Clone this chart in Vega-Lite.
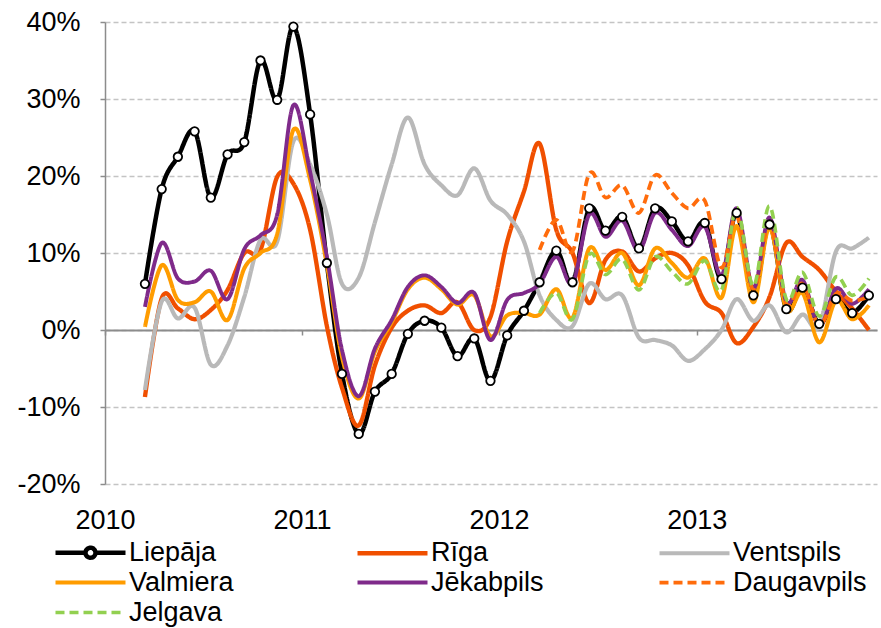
{
  "$schema": "https://vega.github.io/schema/vega-lite/v6.json",
  "width": 772,
  "height": 462,
  "autosize": {"type": "none"},
  "padding": {"left": 105, "top": 22, "right": 4, "bottom": 144},
  "config": {"font": "Liberation Sans", "view": {"stroke": null}},
  "data": {"values": [
    {"m": "2010-03-16", "Liepāja": 6.0, "Rīga": -8.7, "Ventspils": -7.8, "Valmiera": 0.4, "Jēkabpils": 3.0},
    {"m": "2010-04-16", "Liepāja": 18.3, "Rīga": 4.1, "Ventspils": 3.7, "Valmiera": 8.4, "Jēkabpils": 11.3},
    {"m": "2010-05-16", "Liepāja": 22.5, "Rīga": 2.8, "Ventspils": 1.5, "Valmiera": 3.9, "Jēkabpils": 6.7},
    {"m": "2010-06-16", "Liepāja": 25.8, "Rīga": 1.4, "Ventspils": 2.9, "Valmiera": 3.6, "Jēkabpils": 6.3},
    {"m": "2010-07-16", "Liepāja": 17.2, "Rīga": 2.6, "Ventspils": -4.5, "Valmiera": 5.0, "Jēkabpils": 7.7},
    {"m": "2010-08-16", "Liepāja": 22.8, "Rīga": 5.2, "Ventspils": -2.0, "Valmiera": 1.3, "Jēkabpils": 4.0},
    {"m": "2010-09-16", "Liepāja": 24.4, "Rīga": 10.0, "Ventspils": 4.3, "Valmiera": 8.0, "Jēkabpils": 10.5},
    {"m": "2010-10-16", "Liepāja": 35.0, "Rīga": 10.4, "Ventspils": 11.7, "Valmiera": 10.0, "Jēkabpils": 12.3},
    {"m": "2010-11-16", "Liepāja": 29.9, "Rīga": 19.9, "Ventspils": 11.5, "Valmiera": 12.5, "Jēkabpils": 15.0},
    {"m": "2010-12-16", "Liepāja": 39.4, "Rīga": 19.0, "Ventspils": 24.5, "Valmiera": 26.0, "Jēkabpils": 29.2},
    {"m": "2011-01-16", "Liepāja": 28.0, "Rīga": 13.0, "Ventspils": 21.5, "Valmiera": 19.5, "Jēkabpils": 20.5},
    {"m": "2011-02-16", "Liepāja": 8.7, "Rīga": 0.5, "Ventspils": 15.0, "Valmiera": 8.5, "Jēkabpils": 9.5},
    {"m": "2011-03-16", "Liepāja": -5.7, "Rīga": -7.5, "Ventspils": 6.0, "Valmiera": -3.5, "Jēkabpils": -2.6},
    {"m": "2011-04-16", "Liepāja": -13.5, "Rīga": -12.4, "Ventspils": 6.8, "Valmiera": -8.9, "Jēkabpils": -8.6},
    {"m": "2011-05-16", "Liepāja": -8.0, "Rīga": -4.6, "Ventspils": 14.0, "Valmiera": -2.8, "Jēkabpils": -2.4},
    {"m": "2011-06-16", "Liepāja": -5.7, "Rīga": 0.3, "Ventspils": 21.5, "Valmiera": 1.0, "Jēkabpils": 1.3},
    {"m": "2011-07-16", "Liepāja": -0.5, "Rīga": 2.5, "Ventspils": 27.6, "Valmiera": 5.3, "Jēkabpils": 5.6},
    {"m": "2011-08-16", "Liepāja": 1.2, "Rīga": 3.2, "Ventspils": 21.5, "Valmiera": 6.8, "Jēkabpils": 7.1},
    {"m": "2011-09-16", "Liepāja": 0.3, "Rīga": 2.2, "Ventspils": 18.8, "Valmiera": 5.3, "Jēkabpils": 5.6},
    {"m": "2011-10-16", "Liepāja": -3.4, "Rīga": 3.6, "Ventspils": 17.5, "Valmiera": 3.3, "Jēkabpils": 3.5},
    {"m": "2011-11-16", "Liepāja": -1.1, "Rīga": 0.0, "Ventspils": 21.0, "Valmiera": 4.5, "Jēkabpils": 4.8},
    {"m": "2011-12-16", "Liepāja": -6.6, "Rīga": 1.7, "Ventspils": 16.8, "Valmiera": -0.8, "Jēkabpils": -1.3},
    {"m": "2012-01-16", "Liepāja": -0.7, "Rīga": 11.5, "Ventspils": 15.0, "Valmiera": 1.9, "Jēkabpils": 3.9},
    {"m": "2012-02-16", "Liepāja": 2.5, "Rīga": 18.0, "Ventspils": 11.5, "Valmiera": 2.2, "Jēkabpils": 4.8},
    {"m": "2012-03-16", "Liepāja": 6.2, "Rīga": 24.2, "Ventspils": 4.5, "Valmiera": 2.0, "Jēkabpils": 6.0, "Daugavpils": 10.4, "Jelgava": 2.2},
    {"m": "2012-04-16", "Liepāja": 10.3, "Rīga": 13.0, "Ventspils": 1.3, "Valmiera": 5.3, "Jēkabpils": 9.5, "Daugavpils": 14.3, "Jelgava": 4.8},
    {"m": "2012-05-16", "Liepāja": 6.2, "Rīga": 10.0, "Ventspils": 0.5, "Valmiera": 1.6, "Jēkabpils": 6.1, "Daugavpils": 10.2, "Jelgava": 1.4},
    {"m": "2012-06-16", "Liepāja": 15.8, "Rīga": 3.5, "Ventspils": 6.0, "Valmiera": 10.6, "Jēkabpils": 15.0, "Daugavpils": 20.3, "Jelgava": 9.8},
    {"m": "2012-07-16", "Liepāja": 12.9, "Rīga": 9.1, "Ventspils": 4.0, "Valmiera": 7.8, "Jēkabpils": 12.1, "Daugavpils": 17.2, "Jelgava": 7.2},
    {"m": "2012-08-16", "Liepāja": 14.7, "Rīga": 10.2, "Ventspils": 4.5, "Valmiera": 10.0, "Jēkabpils": 14.2, "Daugavpils": 18.8, "Jelgava": 9.2},
    {"m": "2012-09-16", "Liepāja": 10.6, "Rīga": 7.6, "Ventspils": -1.0, "Valmiera": 5.8, "Jēkabpils": 10.3, "Daugavpils": 15.2, "Jelgava": 5.2},
    {"m": "2012-10-16", "Liepāja": 15.8, "Rīga": 9.3, "Ventspils": -1.3, "Valmiera": 10.6, "Jēkabpils": 15.2, "Daugavpils": 20.1, "Jelgava": 9.5},
    {"m": "2012-11-16", "Liepāja": 14.1, "Rīga": 10.0, "Ventspils": -2.0, "Valmiera": 8.7, "Jēkabpils": 13.0, "Daugavpils": 17.8, "Jelgava": 7.6},
    {"m": "2012-12-16", "Liepāja": 11.5, "Rīga": 8.4, "Ventspils": -4.0, "Valmiera": 6.8, "Jēkabpils": 10.9, "Daugavpils": 15.8, "Jelgava": 6.0},
    {"m": "2013-01-16", "Liepāja": 13.9, "Rīga": 3.7, "Ventspils": -2.5, "Valmiera": 9.3, "Jēkabpils": 13.4, "Daugavpils": 16.8, "Jelgava": 9.0},
    {"m": "2013-02-16", "Liepāja": 6.6, "Rīga": 2.2, "Ventspils": 0.0, "Valmiera": 4.2, "Jēkabpils": 7.1, "Daugavpils": 8.1, "Jelgava": 5.2},
    {"m": "2013-03-16", "Liepāja": 15.2, "Rīga": -1.7, "Ventspils": 4.0, "Valmiera": 13.5, "Jēkabpils": 15.8, "Daugavpils": 14.8, "Jelgava": 15.9},
    {"m": "2013-04-16", "Liepāja": 4.5, "Rīga": 0.4, "Ventspils": 1.2, "Valmiera": 3.6, "Jēkabpils": 5.4, "Daugavpils": 5.3, "Jelgava": 5.7},
    {"m": "2013-05-16", "Liepāja": 13.7, "Rīga": 4.3, "Ventspils": 3.2, "Valmiera": 13.3, "Jēkabpils": 14.6, "Daugavpils": 13.8, "Jelgava": 16.1},
    {"m": "2013-06-16", "Liepāja": 2.7, "Rīga": 11.3, "Ventspils": -0.3, "Valmiera": 2.7, "Jēkabpils": 3.7, "Daugavpils": 3.4, "Jelgava": 4.0},
    {"m": "2013-07-16", "Liepāja": 5.5, "Rīga": 9.5, "Ventspils": 2.0, "Valmiera": 4.8, "Jēkabpils": 6.5, "Daugavpils": 6.0, "Jelgava": 7.5},
    {"m": "2013-08-16", "Liepāja": 0.8, "Rīga": 7.8, "Ventspils": 0.5, "Valmiera": -1.6, "Jēkabpils": 0.5, "Daugavpils": 0.6, "Jelgava": 1.8},
    {"m": "2013-09-16", "Liepāja": 4.0, "Rīga": 5.0, "Ventspils": 10.2, "Valmiera": 3.8, "Jēkabpils": 5.4, "Daugavpils": 4.7, "Jelgava": 6.9},
    {"m": "2013-10-16", "Liepāja": 2.2, "Rīga": 2.8, "Ventspils": 10.6, "Valmiera": 1.4, "Jēkabpils": 3.4, "Daugavpils": 3.8, "Jelgava": 4.5},
    {"m": "2013-11-16", "Liepāja": 4.5, "Rīga": 0.0, "Ventspils": 12.0, "Valmiera": 3.2, "Jēkabpils": 5.3, "Daugavpils": 4.3, "Jelgava": 6.7}
  ]},
  "transform": [
    {"fold": ["Liepāja", "Rīga", "Ventspils", "Valmiera", "Jēkabpils", "Daugavpils", "Jelgava"], "as": ["city", "v"]},
    {"filter": "isValid(datum.v)"}
  ],
  "encoding": {
    "x": {
      "field": "m", "type": "temporal",
      "scale": {"type": "utc", "domain": [{"year": 2010, "month": 1, "date": 1, "utc": true}, {"year": 2013, "month": 12, "date": 1, "utc": true}]},
      "axis": {
        "title": null, "orient": "bottom", "offset": -154, "grid": false,
        "values": [{"year": 2010, "month": 1, "date": 1, "utc": true}, {"year": 2011, "month": 1, "date": 1, "utc": true}, {"year": 2012, "month": 1, "date": 1, "utc": true}, {"year": 2013, "month": 1, "date": 1, "utc": true}],
        "format": "%Y", "formatType": "utc",
        "domainColor": "#8C8C8C", "domainWidth": 2, "tickColor": "#8C8C8C", "tickWidth": 1.5, "tickSize": 5,
        "labelFontSize": 27, "labelColor": "#000000", "labelPadding": 172, "labelFlush": false, "labelOverlap": false
      }
    },
    "y": {
      "field": "v", "type": "quantitative",
      "scale": {"domain": [-20, 40], "nice": false, "zero": false},
      "axis": {
        "title": null, "values": [-20, -10, 0, 10, 20, 30, 40], "labelExpr": "datum.value + '%'",
        "labelFontSize": 27, "labelColor": "#000000", "labelPadding": 20, "tickSize": 5,
        "domainColor": "#8C8C8C", "domainWidth": 1.5, "tickColor": "#8C8C8C", "tickWidth": 1.5,
        "grid": true, "gridColor": "#C4C4C4", "gridDash": [5, 3], "gridWidth": 1.5
      }
    }
  },
  "layer": [
    {
      "mark": {"type": "line", "interpolate": "cardinal", "tension": 0},
      "encoding": {
        "color": {
          "field": "city", "type": "nominal",
          "scale": {"domain": ["Liepāja", "Rīga", "Ventspils", "Valmiera", "Jēkabpils", "Daugavpils", "Jelgava"],
                    "range": ["#000000", "#F04F00", "#B9B9B9", "#FF9C00", "#7F2A8A", "#FF6C0C", "#92D050"]},
          "legend": {
            "title": null, "orient": "none", "legendX": -53, "legendY": 517, "columns": 3, "direction": "horizontal",
            "labelFontSize": 27, "labelColor": "#000000", "labelLimit": 400, "labelOffset": 50,
            "symbolType": "M-1,0H6", "symbolSize": 400, "symbolStrokeWidth": 3.8,
            "rowPadding": 1, "columnPadding": 85, "gridAlign": "all", "padding": 0,
            "encode": {"symbols": {"update": {
              "shape": {"signal": "datum.value === 'Liepāja' ? 'M-1,0H2M3,0H6M2,0A0.5,0.5,0,1,1,3,0A0.5,0.5,0,1,1,2,0' : 'M-1,0H6'"},
              "fill": {"value": "#ffffff"}
            }}}
          }
        },
        "strokeDash": {
          "field": "city", "type": "nominal",
          "scale": {"domain": ["Liepāja", "Rīga", "Ventspils", "Valmiera", "Jēkabpils", "Daugavpils", "Jelgava"],
                    "range": [[1, 0], [1, 0], [1, 0], [1, 0], [1, 0], [9, 5], [9, 5]]},
          "legend": {"title": null}
        },
        "strokeWidth": {
          "field": "city", "type": "nominal",
          "scale": {"domain": ["Liepāja", "Rīga", "Ventspils", "Valmiera", "Jēkabpils", "Daugavpils", "Jelgava"],
                    "range": [4.5, 3.6, 3.6, 3.6, 3.6, 3.8, 3.8]},
          "legend": null
        }
      }
    },
    {
      "transform": [{"filter": "datum.city === 'Liepāja'"}],
      "mark": {"type": "point", "shape": "circle", "filled": true, "fill": "#ffffff", "stroke": "#000000", "strokeWidth": 1.8, "size": 72, "opacity": 1}
    }
  ]
}
